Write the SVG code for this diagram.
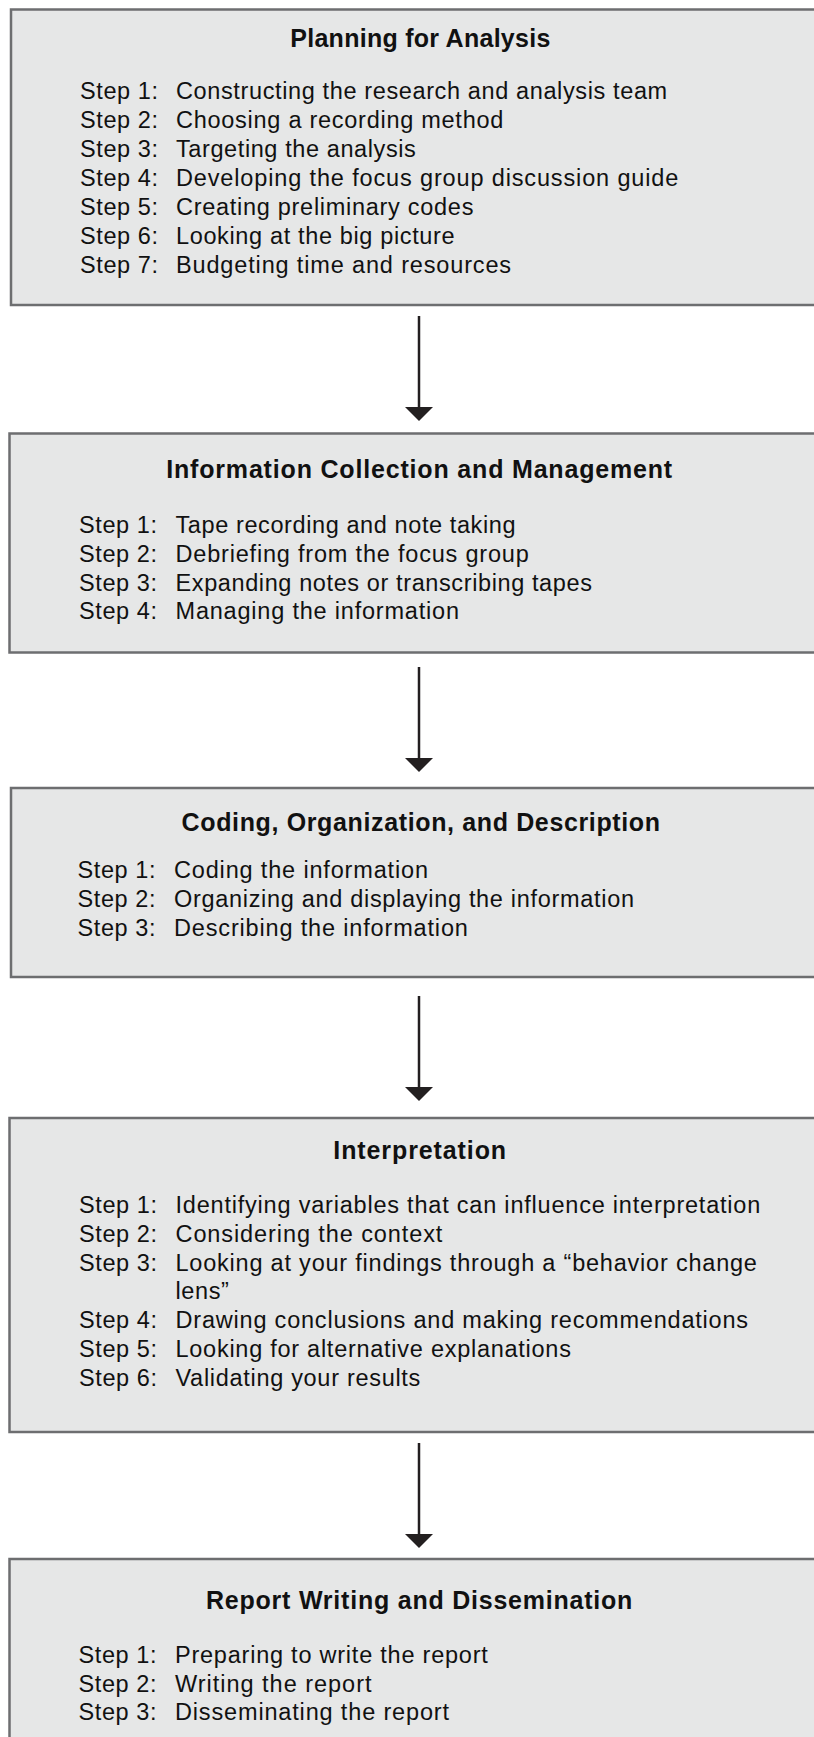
<svg xmlns="http://www.w3.org/2000/svg" width="814" height="1737" viewBox="0 0 814 1737">
<style>
.box{fill:#e6e7e7;stroke:#6d6e70;stroke-width:2.5}
.t{font-family:"Liberation Sans",Arial,sans-serif;font-size:25px;font-weight:bold;fill:#111;text-anchor:middle}
.s{font-family:"Liberation Sans",Arial,sans-serif;font-size:23.5px;fill:#111;letter-spacing:0.6px}
.c{stroke:#231f20;stroke-width:2.5;fill:none}
</style>
<defs>
<marker id="ah" markerUnits="userSpaceOnUse" markerWidth="16" markerHeight="30" refX="8" refY="14" orient="auto" overflow="visible">
<path d="M0,0 L14,14 L0,28 z" fill="#231f20"/>
</marker>
</defs>
<g id="planning">
<rect class="box" x="11" y="9.5" width="820" height="295.5"/>
<text class="t" x="420.3" y="46.5" textLength="260" lengthAdjust="spacing">Planning for Analysis</text>
<text class="s" x="80" y="99">Step 1:</text><text class="s" x="176" y="99" textLength="491.8" lengthAdjust="spacing">Constructing the research and analysis team</text>
<text class="s" x="80" y="128">Step 2:</text><text class="s" x="176" y="128" textLength="327.9" lengthAdjust="spacing">Choosing a recording method</text>
<text class="s" x="80" y="157">Step 3:</text><text class="s" x="176" y="157" textLength="240.4" lengthAdjust="spacing">Targeting the analysis</text>
<text class="s" x="80" y="186">Step 4:</text><text class="s" x="176" y="186" textLength="502.9" lengthAdjust="spacing">Developing the focus group discussion guide</text>
<text class="s" x="80" y="215">Step 5:</text><text class="s" x="176" y="215" textLength="298" lengthAdjust="spacing">Creating preliminary codes</text>
<text class="s" x="80" y="243.5">Step 6:</text><text class="s" x="176" y="243.5" textLength="279.2" lengthAdjust="spacing">Looking at the big picture</text>
<text class="s" x="80" y="272.5">Step 7:</text><text class="s" x="176" y="272.5" textLength="335.7" lengthAdjust="spacing">Budgeting time and resources</text>
</g>
<g id="collection">
<rect class="box" x="9.5" y="433.5" width="820" height="219"/>
<text class="t" x="419.2" y="478" textLength="506" lengthAdjust="spacing">Information Collection and Management</text>
<text class="s" x="79" y="533.3">Step 1:</text><text class="s" x="175.5" y="533.3" textLength="340.6" lengthAdjust="spacing">Tape recording and note taking</text>
<text class="s" x="79" y="562">Step 2:</text><text class="s" x="175.5" y="562" textLength="353.9" lengthAdjust="spacing">Debriefing from the focus group</text>
<text class="s" x="79" y="590.7">Step 3:</text><text class="s" x="175.5" y="590.7" textLength="417" lengthAdjust="spacing">Expanding notes or transcribing tapes</text>
<text class="s" x="79" y="619.3">Step 4:</text><text class="s" x="175.5" y="619.3" textLength="284.1" lengthAdjust="spacing">Managing the information</text>
</g>
<g id="coding">
<rect class="box" x="11" y="788" width="820" height="189"/>
<text class="t" x="420.8" y="830.7" textLength="478.5" lengthAdjust="spacing">Coding, Organization, and Description</text>
<text class="s" x="77.5" y="878.3">Step 1:</text><text class="s" x="174" y="878.3" textLength="254.6" lengthAdjust="spacing">Coding the information</text>
<text class="s" x="77.5" y="907.3">Step 2:</text><text class="s" x="174" y="907.3" textLength="460.6" lengthAdjust="spacing">Organizing and displaying the information</text>
<text class="s" x="77.5" y="936">Step 3:</text><text class="s" x="174" y="936" textLength="294.5" lengthAdjust="spacing">Describing the information</text>
</g>
<g id="interpretation">
<rect class="box" x="9.5" y="1118" width="820" height="314"/>
<text class="t" x="419.7" y="1159.3" textLength="172.8" lengthAdjust="spacing">Interpretation</text>
<text class="s" x="79" y="1213.3">Step 1:</text><text class="s" x="175.5" y="1213.3" textLength="585.4" lengthAdjust="spacing">Identifying variables that can influence interpretation</text>
<text class="s" x="79" y="1241.7">Step 2:</text><text class="s" x="175.5" y="1241.7" textLength="267.5" lengthAdjust="spacing">Considering the context</text>
<text class="s" x="79" y="1271">Step 3:</text><text class="s" x="175.5" y="1271" textLength="582" lengthAdjust="spacing">Looking at your findings through a “behavior change</text>
<text class="s" x="175.5" y="1299">lens”</text>
<text class="s" x="79" y="1327.7">Step 4:</text><text class="s" x="175.5" y="1327.7" textLength="573.2" lengthAdjust="spacing">Drawing conclusions and making recommendations</text>
<text class="s" x="79" y="1356.7">Step 5:</text><text class="s" x="175.5" y="1356.7" textLength="396" lengthAdjust="spacing">Looking for alternative explanations</text>
<text class="s" x="79" y="1385.7">Step 6:</text><text class="s" x="175.5" y="1385.7" textLength="245.4" lengthAdjust="spacing">Validating your results</text>
</g>
<g id="report">
<rect class="box" x="9.5" y="1559" width="820" height="200"/>
<text class="t" x="419.2" y="1609.3" textLength="426.4" lengthAdjust="spacing">Report Writing and Dissemination</text>
<text class="s" x="78.5" y="1663.3">Step 1:</text><text class="s" x="175" y="1663.3" textLength="313.4" lengthAdjust="spacing">Preparing to write the report</text>
<text class="s" x="78.5" y="1692">Step 2:</text><text class="s" x="175" y="1692" textLength="197.1" lengthAdjust="spacing">Writing the report</text>
<text class="s" x="78.5" y="1720">Step 3:</text><text class="s" x="175" y="1720" textLength="274.6" lengthAdjust="spacing">Disseminating the report</text>
</g>
<g id="connectors">
<line class="c" x1="419" y1="316" x2="419" y2="415" marker-end="url(#ah)"/>
<line class="c" x1="419" y1="667" x2="419" y2="766" marker-end="url(#ah)"/>
<line class="c" x1="419" y1="996" x2="419" y2="1095" marker-end="url(#ah)"/>
<line class="c" x1="419" y1="1443" x2="419" y2="1542" marker-end="url(#ah)"/>
</g>
</svg>
